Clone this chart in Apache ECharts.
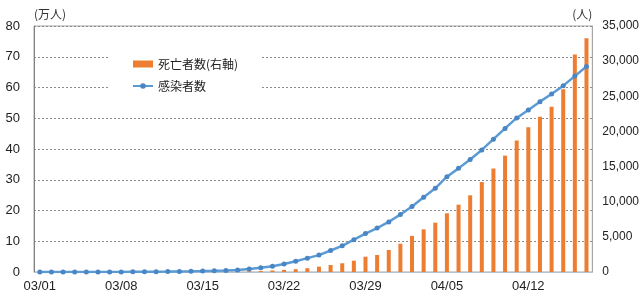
<!DOCTYPE html>
<html>
<head>
<meta charset="utf-8">
<script src="https://cdn.jsdelivr.net/npm/echarts@6/dist/echarts.min.js"></script>
<style>
  html, body { margin: 0; padding: 0; background: #fff; }
  #chart { width: 642px; height: 294px; }
</style>
</head>
<body>
<div id="chart"></div>
<script>
const dates = [
  '03/01', '03/02', '03/03', '03/04', '03/05', '03/06', '03/07', '03/08', '03/09', '03/10',
  '03/11', '03/12', '03/13', '03/14', '03/15', '03/16', '03/17', '03/18', '03/19', '03/20',
  '03/21', '03/22', '03/23', '03/24', '03/25', '03/26', '03/27', '03/28', '03/29', '03/30',
  '03/31', '04/01', '04/02', '04/03', '04/04', '04/05', '04/06', '04/07', '04/08', '04/09',
  '04/10', '04/11', '04/12', '04/13', '04/14', '04/15', '04/16', '04/17'
]
// 死亡者数（人, 右軸）
const deaths = [
  1, 1, 2, 6, 9, 11, 12, 15, 19, 22,
  26, 31, 38, 41, 49, 57, 69, 86, 109, 150,
  220, 300, 400, 540, 760, 1000, 1240, 1610, 2180, 2420,
  3130, 4030, 5140, 6070, 7020, 8350, 9580, 10910, 12800, 14720,
  16560, 18700, 20590, 22100, 23520, 26000, 30930, 33250
]
// 感染者数（万人, 左軸）
const infected = [
  0.01, 0.01, 0.01, 0.01, 0.02, 0.02, 0.03, 0.04, 0.05, 0.06,
  0.10, 0.13, 0.17, 0.22, 0.29, 0.37, 0.46, 0.65, 1.0, 1.4,
  1.9, 2.6, 3.5, 4.5, 5.5, 7.0, 8.5, 10.5, 12.5, 14.3,
  16.3, 18.7, 21.3, 24.3, 27.2, 31.0, 33.7, 36.6, 39.7, 43.2,
  46.7, 50.1, 52.7, 55.4, 57.9, 60.6, 63.7, 66.8
]
const leftTicks = [0, 80, 10]
const rightTicks = [0, 35000, 5000]

const font = '"Liberation Sans", Arial, "Noto Sans CJK JP", sans-serif'
const jpFont = '"Noto Sans CJK JP", sans-serif'

const chart = echarts.init(document.getElementById('chart'))
chart.setOption({
  animation: false,
  grid: {
    left: 34,
    right: 47,
    top: 26,
    bottom: 22,
    show: true,
    borderColor: '#a6a6a6',
    borderWidth: 1
  },
  legend: {
    orient: 'vertical',
    left: 110,
    top: 48,
    padding: [10, 22, 10, 22],
    itemGap: 10,
    itemWidth: 20,
    itemHeight: 7,
    backgroundColor: '#fff',
    textStyle: { fontFamily: jpFont, fontSize: 12, color: '#222' },
    data: [
      { name: '死亡者数(右軸)', icon: 'rect' },
      { name: '感染者数' }
    ]
  },
  xAxis: {
    type: 'category',
    data: dates,
    boundaryGap: true,
    axisLine: { lineStyle: { color: '#b4c3d3' } },
    axisTick: { show: false },
    axisLabel: {
      interval: 6,
      margin: 8,
      fontFamily: font,
      fontSize: 13,
      color: '#222'
    }
  },
  yAxis: [
    {
      type: 'value',
      min: leftTicks[0],
      max: leftTicks[1],
      interval: leftTicks[2],
      name: '(万人)',
      nameGap: 6,
      nameTextStyle: { fontFamily: jpFont, fontSize: 12, color: '#333', align: 'left' },
      axisLine: { show: true, lineStyle: { color: '#808080' } },
      axisTick: { show: false },
      axisLabel: { margin: 14, fontFamily: font, fontSize: 13, color: '#222' },
      splitLine: { lineStyle: { color: '#8c8c8c', type: [2, 2], width: 1 } }
    },
    {
      type: 'value',
      min: rightTicks[0],
      max: rightTicks[1],
      interval: rightTicks[2],
      name: '(人)',
      nameGap: 6,
      nameTextStyle: { fontFamily: jpFont, fontSize: 12, color: '#333', align: 'right' },
      axisLine: { show: true, lineStyle: { color: '#a6a6a6' } },
      axisTick: { show: false },
      axisLabel: {
        margin: 10,
        fontFamily: font,
        fontSize: 12,
        color: '#222',
        formatter: v => v.toLocaleString('en-US')
      },
      splitLine: { show: false }
    }
  ],
  series: [
    {
      name: '死亡者数(右軸)',
      type: 'bar',
      yAxisIndex: 1,
      data: deaths,
      barWidth: 4,
      itemStyle: { color: '#ed7d31' }
    },
    {
      name: '感染者数',
      type: 'line',
      yAxisIndex: 0,
      data: infected,
      symbol: 'circle',
      symbolSize: 5,
      lineStyle: { color: '#5b9bd5', width: 2.5 },
      itemStyle: { color: '#4a86c4' }
    }
  ]
})
</script>
</body>
</html>
